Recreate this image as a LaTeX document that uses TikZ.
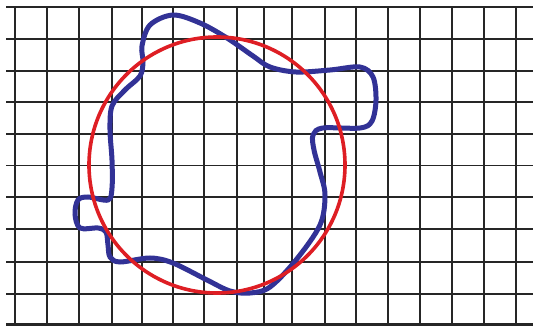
\documentclass[tikz,border=0pt]{standalone}
\usepackage{xcolor}
\definecolor{gridgray}{RGB}{38,38,38}
\definecolor{loopblue}{RGB}{50,50,150}
\definecolor{ringred}{RGB}{222,30,36}
\usetikzlibrary{positioning}

\begin{document}
\begin{tikzpicture}[x=1pt,y=-1pt]
  \useasboundingbox (0,0) rectangle (533,326);
  \fill[white] (0,0) rectangle (533,326);
  % grid
  \foreach \x in {15,47.3,79.3,111.7,141.7,173.3,204.3,236.7,264.3,292.3,325,356.3,388,419.7,452.3,484,516.3}{
    \draw[gridgray,line width=1.7pt] (\x,6.7) -- (\x,326);
  }
  \foreach \y in {6.7,39,70.7,102.3,134,165.5,197.3,229.3,261.7,294}{
    \draw[gridgray,line width=1.7pt] (6,\y) -- (533,\y);
  }
  \draw[gridgray,line width=2.6pt] (6,324.3) -- (533,324.3);
  % wavy outline
  \draw[loopblue,line width=5pt] plot[smooth cycle,tension=0.55] coordinates {
    (173,15) (200,23) (227,38) (253,56) (270,67) (296,72) (330,70) (360,67)
    (373,77) (376,100) (372,121) (360,128) (323,128) (313,135) (314,150)
    (320,172) (325,195) (320,225) (296,260) (270,287) (250,293) (230,291)
    (207,280) (173,263) (150,258) (120,262) (110,257) (108,245) (106,232)
    (98,228) (80,228) (75,214) (78,200) (88,197) (108,200) (112,188)
    (112,160) (110,130) (112,106) (125,90) (140,76) (143,62) (142,46)
    (150,25)
  };
  % circle
  \draw[ringred,line width=3.6pt] (217,165) circle (128);
\end{tikzpicture}
\end{document}
